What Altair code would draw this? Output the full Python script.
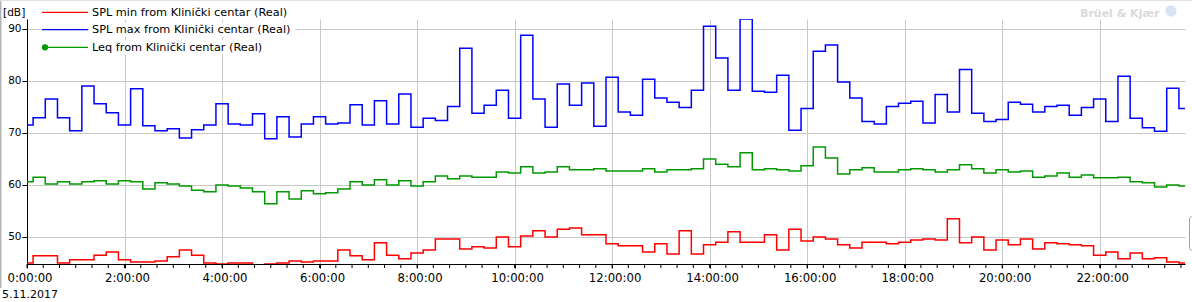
import altair as alt
import pandas as pd

# ---------------- data ----------------
series_names = [
    "SPL min from Klinički centar (Real)",
    "SPL max from Klinički centar (Real)",
    "Leq from Klinički centar (Real)",
]
series_colors = ["#ff0000", "#0000ff", "#009900"]

interval_hours = 0.25  # one value every 15 minutes, starting 0:00:00

spl_min = [45.0, 46.4, 46.4, 45.0, 45.6, 45.6, 46.5, 47.1, 45.6, 45.2,
           45.2, 45.4, 46.2, 47.5, 46.5, 45.0, 44.8, 45.0, 45.0, 44.5,
           44.8, 45.0, 45.4, 45.2, 45.4, 45.4, 47.5, 46.4, 45.6, 48.9,
           46.5, 45.8, 46.9, 47.5, 49.6, 49.6, 47.7, 48.1, 47.9, 50.0,
           48.1, 50.2, 51.2, 50.0, 51.5, 51.7, 50.4, 50.4, 48.7, 48.3,
           48.3, 47.1, 48.7, 46.7, 51.2, 46.7, 48.5, 49.0, 51.0, 49.0,
           49.0, 50.4, 47.5, 51.5, 49.2, 50.0, 49.6, 48.5, 47.9, 49.0,
           49.0, 48.7, 49.0, 49.4, 49.6, 49.4, 53.5, 48.9, 50.0, 47.5,
           49.4, 48.5, 49.6, 47.7, 48.9, 48.7, 48.5, 48.3, 46.5, 47.1,
           45.8, 46.9, 45.8, 46.0, 45.2, 45.0]

spl_max = [71.5, 72.9, 76.5, 72.9, 70.4, 79.0, 75.6, 73.9, 71.5, 78.5,
           71.4, 70.4, 70.8, 69.0, 70.6, 71.5, 75.6, 71.7, 71.5, 73.7,
           68.9, 73.1, 69.2, 71.7, 73.1, 71.7, 71.9, 75.4, 71.5, 76.2,
           71.7, 77.5, 71.1, 72.8, 72.4, 75.1, 86.3, 73.8, 75.3, 78.2,
           72.8, 88.8, 76.5, 71.1, 79.4, 75.3, 79.6, 71.3, 80.7, 74.0,
           73.4, 80.3, 76.7, 75.9, 74.9, 78.2, 90.5, 84.4, 78.2, 91.9,
           78.0, 77.8, 81.1, 70.5, 74.7, 85.7, 86.9, 79.8, 76.7, 72.2,
           71.7, 75.1, 75.7, 76.1, 71.9, 77.4, 74.0, 82.2, 73.8, 72.2,
           72.6, 75.9, 75.5, 74.0, 75.1, 75.3, 73.4, 74.9, 76.5, 72.2,
           80.9, 72.8, 71.0, 70.3, 78.6, 74.7]

leq = [60.6, 61.5, 60.2, 60.6, 60.2, 60.6, 60.8, 60.2, 60.8, 60.6,
       59.2, 60.4, 60.2, 59.8, 59.0, 58.7, 60.0, 59.8, 59.4, 58.7,
       56.4, 58.7, 57.3, 58.9, 58.3, 58.5, 59.2, 60.6, 60.0, 61.0,
       60.0, 60.8, 59.8, 60.6, 61.7, 61.2, 61.7, 61.5, 61.5, 62.5,
       62.3, 63.5, 62.3, 62.5, 63.5, 62.9, 62.9, 63.1, 62.7, 62.7,
       62.7, 63.1, 62.5, 62.9, 62.9, 63.1, 65.0, 64.0, 63.5, 66.2,
       62.9, 63.1, 62.9, 62.7, 63.7, 67.3, 65.2, 62.1, 62.9, 63.3,
       62.5, 62.5, 62.9, 63.1, 62.9, 62.5, 62.9, 63.9, 63.1, 62.3,
       62.9, 62.5, 62.7, 61.5, 61.7, 62.3, 61.5, 61.9, 61.4, 61.4,
       61.5, 60.6, 60.4, 59.6, 60.0, 59.8]

x_tick_hours = [0, 2, 4, 6, 8, 10, 12, 14, 16, 18, 20, 22]
minor_tick_hours = [k / 3 for k in range(0, 72)]  # every 20 minutes
y_ticks = [50, 60, 70, 80, 90]
date_label = "5.11.2017"
unit_label = "[dB]"
watermark = "Brüel & Kjær"

# ---------------- tables ----------------
rows = []
for name, vals in zip(series_names, [spl_min, spl_max, leq]):
    for i, v in enumerate(vals):
        rows.append({"t": i * interval_hours, "v": v, "series": name})
df = pd.DataFrame(rows)
ticks_df = pd.DataFrame({"t": minor_tick_hours})

W, H = 1158, 245
FONT = "DejaVu Sans"
GRID = "#c8c8c8"

x_scale = alt.Scale(domain=[0, 23.75], nice=False, zero=False)
y_scale = alt.Scale(domain=[44.8, 91.9], nice=False, zero=False)

x_axis = alt.Axis(
    values=x_tick_hours, labelExpr="datum.value + ':00:00'",
    grid=True, gridColor=GRID, gridWidth=1,
    tickSize=4, tickColor="black", domainColor="black", domainWidth=1,
    labelFont=FONT, labelFontSize=11.7, labelColor="black",
    labelPadding=4, labelFlush=False, labelOffset=2.5, labelOverlap=False,
    title=date_label, titleFont=FONT, titleFontSize=11, titleFontWeight="normal",
    titleColor="black", titleX=-25.5, titleY=33, titleAlign="left",
    titleBaseline="alphabetic", titleAnchor="start",
)

lines = alt.Chart(df).mark_line(interpolate="step", strokeWidth=1.5, clip=True).encode(
    x=alt.X("t:Q", scale=x_scale, axis=x_axis),
    y=alt.Y("v:Q", scale=y_scale, axis=alt.Axis(
        values=y_ticks, grid=True, gridColor=GRID, gridWidth=1,
        tickSize=5, tickColor="black", domainColor="black", domainWidth=1,
        labelFont=FONT, labelFontSize=10.5, labelColor="black", labelPadding=1,
        title=unit_label, titleFont=FONT, titleFontSize=10.6, titleFontWeight="normal",
        titleColor="black", titleAngle=0, titleX=-24.5, titleY=-4,
        titleAlign="left", titleBaseline="alphabetic",
    )),
    color=alt.Color("series:N", scale=alt.Scale(domain=series_names, range=series_colors), legend=None),
)

minor_ticks = alt.Chart(ticks_df).mark_rule(color="black", strokeWidth=1).encode(
    x=alt.X("t:Q", scale=x_scale, axis=x_axis),
    y=alt.value(H), y2=alt.value(H + 4),
)

# ---------------- legend (top-left, drawn by hand) ----------------
legend_layers = []
row_line_y = [-6.7, 10.7, 28.3]
for k, (name, col) in enumerate(zip(series_names, series_colors)):
    one = pd.DataFrame({"label": [name]})
    ly = row_line_y[k]
    legend_layers.append(alt.Chart(one).mark_rect(color="white").encode(
        x=alt.value(62), x2=alt.value(268), y=alt.value(ly - 7), y2=alt.value(ly + 7)))
    legend_layers.append(alt.Chart(one).mark_rule(color=col, strokeWidth=1.3).encode(
        x=alt.value(15), x2=alt.value(61), y=alt.value(ly)))
    legend_layers.append(alt.Chart(one).mark_text(
        align="left", baseline="middle", font=FONT, fontSize=11.3, color="black", dy=0.5
    ).encode(text="label:N", x=alt.value(65), y=alt.value(ly)))
    if k == 2:
        legend_layers.append(alt.Chart(one).mark_point(
            filled=True, color=col, size=40, opacity=1, shape="circle"
        ).encode(x=alt.value(18), y=alt.value(ly)))

wm = pd.DataFrame({"label": [watermark]})
watermark_layers = [
    alt.Chart(wm).mark_text(align="left", baseline="alphabetic", font=FONT, fontSize=11,
                            fontWeight="bold", color="#dadada").encode(
        text="label:N", x=alt.value(1053), y=alt.value(-2)),
    alt.Chart(wm).mark_point(filled=True, color="#c9d8ee", size=130, shape="circle").encode(
        x=alt.value(1144), y=alt.value(-8)),
]

frame = [
    alt.Chart(wm).mark_rule(color="#b4b4b4", strokeWidth=1.5).encode(
        x=alt.value(-26.3), y=alt.value(-19), y2=alt.value(269)),
    alt.Chart(wm).mark_rule(color="#e2e2e2", strokeWidth=1).encode(
        x=alt.value(-27), x2=alt.value(1165), y=alt.value(-18.5)),
    alt.Chart(wm).mark_rect(fill="white", stroke="#a0a0a0", strokeWidth=1, cornerRadius=2).encode(
        x=alt.value(1162.5), x2=alt.value(1170), y=alt.value(198), y2=alt.value(231)),
]

chart = alt.layer(
    lines, minor_ticks, *legend_layers, *watermark_layers, *frame
).properties(
    width=W, height=H,
    padding={"left": 27, "top": 19, "right": 7, "bottom": 38},
    autosize=alt.AutoSizeParams(type="none"),
    background="white",
).configure_view(stroke=None)

chart.save("out.html", embed_options={"renderer": "svg", "actions": False})
